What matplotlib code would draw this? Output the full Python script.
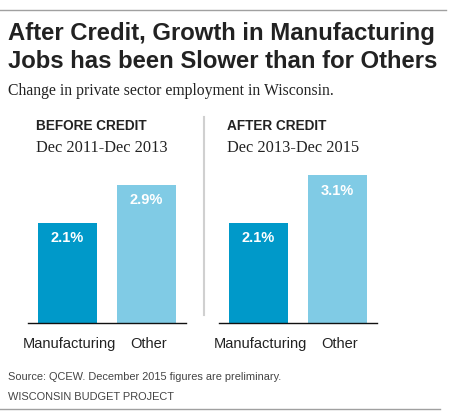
import matplotlib.pyplot as plt
from matplotlib.lines import Line2D

W, H = 454, 419

categories = ['Manufacturing', 'Other']
before_values = [2.1, 2.9]
after_values = [2.1, 3.1]
panel_titles = ['BEFORE CREDIT', 'AFTER CREDIT']
panel_periods = ['Dec 2011-Dec 2013', 'Dec 2013-Dec 2015']
bar_colors = ['#0099c9', '#80cbe5']

title_lines = ['After Credit, Growth in Manufacturing', 'Jobs has been Slower than for Others']
subtitle = 'Change in private sector employment in Wisconsin.'
source = 'Source: QCEW. December 2015 figures are preliminary.'
credit = 'WISCONSIN BUDGET PROJECT'

sans = ['Liberation Sans', 'DejaVu Sans']
serif = ['Liberation Serif', 'DejaVu Serif']


def fx(px):
    return px / W


def fy(py):
    return 1 - py / H


fig = plt.figure(figsize=(W / 100, H / 100), dpi=100)

# rules top and bottom
fig.add_artist(Line2D([fx(0), fx(446)], [fy(10), fy(10)], color='#a0a0a0', lw=1))
fig.add_artist(Line2D([fx(0), fx(440)], [fy(409), fy(409)], color='#a0a0a0', lw=1))
# divider between panels
fig.add_artist(Line2D([fx(204), fx(204)], [fy(117), fy(315)], color='#d0d0d0', lw=1.5))

for line, base in zip(title_lines, [40, 68]):
    fig.text(fx(8), fy(base), line, family=sans, weight='bold', fontsize=17.2,
             color='#222222', va='baseline')
fig.text(fx(8), fy(95), subtitle, family=serif, fontsize=11.3, color='#222222', va='baseline')

px_per_unit = 47.6
base_y = 323
top_y = 165
panels = [(28, before_values), (219, after_values)]

for i, (left, vals) in enumerate(panels):
    ax = fig.add_axes([fx(left), fy(base_y), 158 / W, (base_y - top_y) / H])
    ax.bar([0.5, 1.5], vals, width=0.75, color=bar_colors)
    ax.set_xlim(0, 2)
    ax.set_ylim(0, (base_y - top_y) / px_per_unit)
    for s in ['top', 'right', 'left']:
        ax.spines[s].set_visible(False)
    ax.spines['bottom'].set_color('#111111')
    ax.spines['bottom'].set_linewidth(1)
    ax.set_yticks([])
    ax.set_xticks([0.53, 1.53])
    ax.set_xticklabels(categories, family=sans, fontsize=10.5, color='#222222')
    ax.tick_params(axis='x', length=0, pad=10)
    ax.patch.set_visible(False)
    for x, v in zip([0.5, 1.5], vals):
        ax.annotate(f'{v:.1f}%', (x, v), xytext=(0, -11), textcoords='offset points',
                    ha='center', va='center', color='white', weight='bold',
                    family=sans, fontsize=10.5)
    fig.text(fx(left + 8), fy(126), panel_titles[i], family=sans, weight='bold',
             fontsize=9.8, color='#222222', va='center')
    fig.text(fx(left + 8), fy(148), panel_periods[i], family=serif,
             fontsize=11.8, color='#222222', va='center')

fig.text(fx(8), fy(377), source, family=sans, fontsize=7.9, color='#444444', va='center')
fig.text(fx(8), fy(397), credit, family=sans, fontsize=7.9, color='#444444', va='center')

fig.savefig('out.png', dpi=100)
